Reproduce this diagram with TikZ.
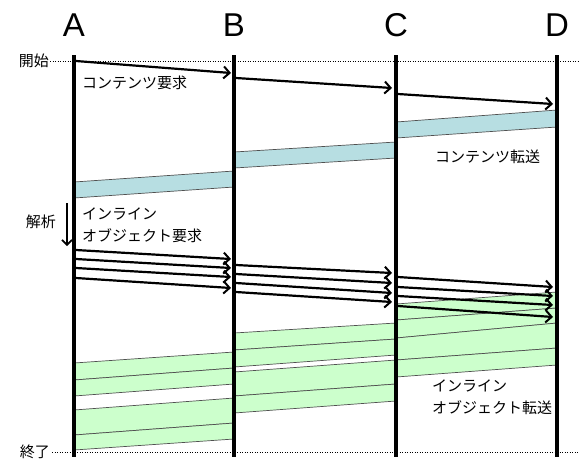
\documentclass[tikz,border=0pt]{standalone}
\usepackage{fontspec}
\setmainfont{Liberation Sans}
\newfontfamily\jp{Noto Sans CJK JP}
\usetikzlibrary{arrows.meta}
\definecolor{bandblue}{HTML}{B7DEE2}
\definecolor{bandgreen}{HTML}{CCFFCC}
\definecolor{edgegray}{HTML}{505050}
\tikzset{
  lifeline/.style={line width=3.6pt},
  msg/.style={line width=2.2pt,-{Straight Barb[length=6pt,width=12pt,line width=2pt]}},
  blueband/.style={fill=bandblue},
  greenband/.style={fill=bandgreen},
  bandedge/.style={draw=edgegray,line width=0.7pt},
  timeline/.style={line width=1pt,dash pattern=on 1.2pt off 1.3pt},
  big/.style={font=\fontsize{33}{36}\selectfont,inner sep=0pt},
  jptext/.style={font=\jp\fontsize{15}{22}\selectfont,inner sep=0pt,align=left},
}
\newcommand{\band}[8]{% style, x1, t1, b1, x2, t2, b2, name
  \coordinate (#8t1) at (#2,#3); \coordinate (#8b1) at (#2,#4);
  \coordinate (#8t2) at (#5,#6); \coordinate (#8b2) at (#5,#7);
  \fill[#1] (#8t1) -- (#8t2) -- (#8b2) -- (#8b1) -- cycle;
  \draw[bandedge] (#8t1) -- (#8t2);
  \draw[bandedge] (#8b1) -- (#8b2);
}
\newcommand{\msgarrow}[5]{% x1,y1,x2,y2,name
  \coordinate (#5s) at (#1,#2); \coordinate (#5e) at (#3,#4);
  \draw[msg] (#5s) -- (#5e);
}
\begin{document}
\begin{tikzpicture}[x=1pt,y=-1pt]
\useasboundingbox (0,0) rectangle (580,459);
% timelines
\coordinate (t0s) at (50,61); \coordinate (t0e) at (579,61);
\coordinate (t1s) at (52,452); \coordinate (t1e) at (579,452);
\draw[timeline] (t0s) -- (t0e);
\draw[timeline] (t1s) -- (t1e);
% blue bands
\band{blueband}{557}{110}{127}{396}{122}{138}{bl1}
\band{blueband}{396}{142}{158}{234}{152}{168}{bl2}
\band{blueband}{234}{171}{187}{74}{182}{198}{bl3}
% green bands D->C
\band{greenband}{557}{292}{308}{396}{304}{320}{gd1}
\band{greenband}{557}{308}{323}{396}{320}{338}{gd2}
\band{greenband}{557}{323}{348}{396}{338}{360}{gd3}
\band{greenband}{557}{348}{365}{396}{360}{377}{gd4}
% green bands C->B
\band{greenband}{396}{323}{339}{234}{333}{350}{gc1}
\band{greenband}{396}{339}{355}{234}{350}{367}{gc2}
\band{greenband}{396}{360}{384}{234}{372}{396}{gc3}
\band{greenband}{396}{384}{401}{234}{396}{413}{gc4}
% green bands B->A
\band{greenband}{234}{352}{368}{74}{363}{380}{gb1}
\band{greenband}{234}{368}{384}{74}{380}{396}{gb2}
\band{greenband}{234}{398}{423}{74}{410}{435}{gb3}
\band{greenband}{234}{423}{439}{74}{435}{450}{gb4}
% lifelines
\foreach \n/\x in {A/74,B/234,C/396,D/557}{
  \coordinate (\n top) at (\x,55);
  \coordinate (\n bot) at (\x,457);
  \draw[lifeline] (\n top) -- (\n bot);
  \node[big] (lbl\n) at (\x,25) {\n};
}
% content request
\msgarrow{76}{61}{231}{73}{cr1}
\msgarrow{236}{78}{392}{88}{cr2}
\msgarrow{398}{94}{553}{104}{cr3}
% inline requests
\msgarrow{76}{250}{231}{259}{ia1}
\msgarrow{76}{259}{231}{268}{ia2}
\msgarrow{76}{268}{231}{277}{ia3}
\msgarrow{76}{278}{231}{288}{ia4}
\msgarrow{236}{265}{392}{273}{ib1}
\msgarrow{236}{274}{392}{283}{ib2}
\msgarrow{236}{283}{392}{293}{ib3}
\msgarrow{236}{292}{392}{302}{ib4}
\msgarrow{398}{277}{553}{287}{ic1}
\msgarrow{398}{287}{553}{296}{ic2}
\msgarrow{398}{296}{553}{305}{ic3}
\msgarrow{398}{306}{553}{317}{ic4}
% parse arrow
\coordinate (pa1) at (67,203); \coordinate (pa2) at (67,246);
\draw[line width=1.6pt,-{Straight Barb[length=5pt,width=10pt,line width=1.6pt]}] (pa1) -- (pa2);
% texts
\node[jptext,anchor=east] (start) at (49,61) {開始};
\node[jptext,anchor=east] (end) at (50,452) {終了};
\node[jptext,anchor=east] (parse) at (56,222) {解析};
\node[jptext,anchor=west] (creq) at (82,83) {コンテンツ要求};
\node[jptext,anchor=west] (ctrans) at (435,157) {コンテンツ転送};
\node[jptext,anchor=north west] (ireq) at (82,208) {インライン\\オブジェクト要求};
\node[jptext,anchor=north west] (itrans) at (432,380) {インライン\\オブジェクト転送};
\end{tikzpicture}
\end{document}
